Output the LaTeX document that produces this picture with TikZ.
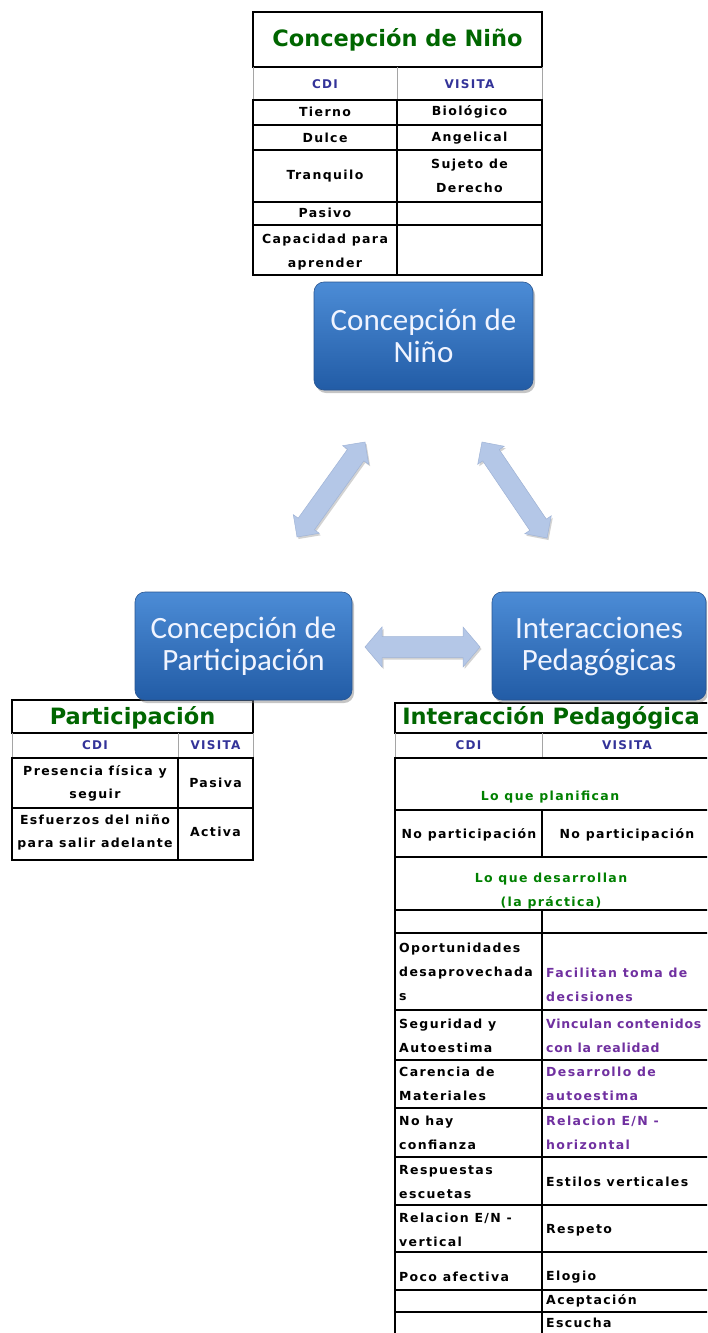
\documentclass[tikz,border=0pt]{standalone}
\usepackage{fontspec}
\setmainfont{DejaVu Sans}
\newfontfamily\cellfont{DejaVu Sans Bold}[LetterSpace=11]
\newfontfamily\tightcellfont{DejaVu Sans Bold}[LetterSpace=6]
\newfontfamily\ttlfont{DejaVu Sans}
\newfontfamily\boxfont{Carlito}
\usetikzlibrary{shadows,calc}
\definecolor{ttlgreen}{RGB}{0,102,0}
\definecolor{txtgreen}{RGB}{0,128,0}
\definecolor{hdrblue}{RGB}{51,51,153}
\definecolor{purp}{RGB}{112,48,160}
\definecolor{arrowblue}{RGB}{180,199,231}
\definecolor{arrowedge}{RGB}{160,180,215}
\definecolor{boxtop}{RGB}{76,140,214}
\definecolor{boxbot}{RGB}{34,92,166}
\definecolor{boxedge}{RGB}{40,85,145}
\definecolor{gridgray}{RGB}{165,165,165}
\newcommand\dblblockarrow[5]{%
  \coordinate (hs) at ($(#1)!#5!(#2)$);
  \coordinate (he) at ($(#2)!#5!(#1)$);
  \fill[blockarr] (#1) -- ($(hs)!#4!90:(#2)$) -- ($(hs)!#3!90:(#2)$)
    -- ($(he)!#3!-90:(#1)$) -- ($(he)!#4!-90:(#1)$) -- (#2)
    -- ($(he)!#4!90:(#1)$) -- ($(he)!#3!90:(#1)$)
    -- ($(hs)!#3!-90:(#2)$) -- ($(hs)!#4!-90:(#2)$) -- cycle;}
\begin{document}
\begin{tikzpicture}[x=1pt,y=-1pt,
  tblk/.style={line width=1.6pt},
  tin/.style={line width=1.3pt},
  tgray/.style={draw=gridgray,line width=0.9pt},
  ttl/.style={font=\ttlfont\bfseries\fontsize{22.5}{26}\selectfont,text=ttlgreen,inner sep=0pt},
  hdr/.style={font=\cellfont\fontsize{12}{13}\selectfont,text=hdrblue,inner sep=0pt},
  cell/.style={font=\cellfont\fontsize{12.5}{24}\selectfont,inner sep=0pt,align=center},
  lcell/.style={font=\cellfont\fontsize{12.5}{24}\selectfont,inner sep=0pt,align=left,anchor=west},
  concept/.style={rounded corners=10pt,top color=boxtop,bottom color=boxbot,draw=boxedge,line width=0.6pt,
    drop shadow={opacity=0.45,shadow xshift=2pt,shadow yshift=-3pt},text={rgb,255:red,240;green,244;blue,255},
    font=\boxfont\fontsize{31}{32}\selectfont,align=center,inner sep=0pt},
  blockarr/.style={fill=arrowblue,draw=arrowedge,line width=0.5pt,
    drop shadow={opacity=0.35,shadow xshift=1.5pt,shadow yshift=-2pt}}]
\clip (0,0) rectangle (707,1333);
\fill[white] (0,0) rectangle (707,1333);

% ---------- top table ----------
\draw[tblk] (253,12) rectangle (542,67);
\draw[tgray] (253,67) -- (253,100) (397,67) -- (397,100) (542,67) -- (542,100);
\draw[tblk] (253,100) rectangle (542,275);
\draw[tin] (253,125) -- (542,125) (253,150) -- (542,150) (253,202) -- (542,202)
  (253,225) -- (542,225) (397,100) -- (397,275);
\node[ttl] (ttlnino) at (397.5,40) {Concepción de Niño};
\node[hdr] (hn1) at (325,84) {CDI};
\node[hdr] (hn2) at (469.5,84) {VISITA};
\node[cell] (n11) at (325,112) {Tierno};
\node[cell] (n12) at (469.5,112) {Biológico};
\node[cell] (n21) at (325,138) {Dulce};
\node[cell] (n22) at (469.5,138) {Angelical};
\node[cell] (n31) at (325,176) {Tranquilo};
\node[cell] (n32) at (469.5,176) {Sujeto de\\Derecho};
\node[cell] (n41) at (325,213) {Pasivo};
\node[cell] (n51) at (325,252) {Capacidad para\\aprender};

% ---------- left table ----------
\draw[tblk] (12,700) rectangle (253,733);
\draw[tgray] (12,733) -- (12,758) (178,733) -- (178,758) (253,733) -- (253,758);
\draw[tblk] (12,758) rectangle (253,860);
\draw[tin] (12,808) -- (253,808) (178,758) -- (178,860);
\node[ttl] (ttlpart) at (132.5,718) {Participación};
\node[hdr] (hp1) at (95,745) {CDI};
\node[hdr] (hp2) at (215.5,745) {VISITA};
\node[cell,font=\cellfont\fontsize{12.5}{23}\selectfont] (p11) at (95,783) {Presencia física y\\seguir};
\node[cell] (p12) at (215.5,783) {Pasiva};
\node[cell,font=\cellfont\fontsize{12.5}{23}\selectfont] (p21) at (95,832) {Esfuerzos del niño\\para salir adelante};
\node[cell] (p22) at (215.5,832) {Activa};

% ---------- right table ----------
\draw[tblk] (395,703) rectangle (712,733);
\draw[tgray] (395,733) -- (395,758) (542,733) -- (542,758);
\draw[tblk] (395,758) rectangle (712,1345);
\draw[tin] (395,810) -- (712,810) (395,857) -- (712,857) (395,910) -- (712,910)
  (395,933) -- (712,933) (395,1010) -- (712,1010) (395,1060) -- (712,1060)
  (395,1108) -- (712,1108) (395,1157) -- (712,1157) (395,1205) -- (712,1205)
  (395,1252) -- (712,1252) (395,1290) -- (712,1290) (395,1312) -- (712,1312)
  (542,810) -- (542,857) (542,910) -- (542,1345);
\node[ttl] (ttlinter) at (551,718) {Interacción Pedagógica};
\node[hdr] (hi1) at (468.5,745) {CDI};
\node[hdr] (hi2) at (627,745) {VISITA};
\node[cell,text=txtgreen] (r1) at (550,797) {Lo que planifican};
\node[cell] (r21) at (469,835) {No participación};
\node[cell] (r22) at (627,835) {No participación};
\node[cell,text=txtgreen] (r3) at (551,891) {Lo que desarrollan\\(la práctica)};
\node[lcell] (r51) at (399,972) {Oportunidades\\desaprovechada\\s};
\node[lcell,text=purp] (r52) at (546,984.5) {Facilitan toma de\\decisiones};
\node[lcell] (r61) at (399,1036) {Seguridad y\\Autoestima};
\node[lcell,text=purp,font=\tightcellfont\fontsize{12.5}{24}\selectfont] (r62) at (546,1036) {Vinculan contenidos\\con la realidad};
\node[lcell] (r71) at (399,1083.5) {Carencia de\\Materiales};
\node[lcell,text=purp] (r72) at (546,1083.5) {Desarrollo de\\autoestima};
\node[lcell] (r81) at (399,1133) {No hay\\confianza};
\node[lcell,text=purp] (r82) at (546,1133) {Relacion E/N -\\horizontal};
\node[lcell] (r91) at (399,1182.5) {Respuestas\\escuetas};
\node[lcell] (r92) at (546,1182) {Estilos verticales};
\node[lcell] (r101) at (399,1230) {Relacion E/N -\\vertical};
\node[lcell] (r102) at (546,1230) {Respeto};
\node[lcell] (r111) at (399,1277) {Poco afectiva};
\node[lcell] (r112) at (546,1277) {Elogio};
\node[lcell] (r122) at (546,1301) {Aceptación};
\node[lcell] (r132) at (546,1323) {Escucha};

% ---------- concept boxes ----------
\node[concept,minimum width=219pt,minimum height=108pt] (nino) at (423.5,336) {Concepción de\\Niño};
\node[concept,minimum width=217pt,minimum height=108pt] (part) at (243.5,646) {Concepción de\\Participación};
\node[concept,minimum width=214pt,minimum height=108pt] (inter) at (599,646) {Interacciones\\Pedagógicas};

% ---------- block arrows ----------
\coordinate (d1a) at (297,537); \coordinate (d1b) at (365,442);
\coordinate (d2a) at (482,442); \coordinate (d2b) at (547,538);
\coordinate (h1a) at (365,647); \coordinate (h1b) at (480,647);
\dblblockarrow{d1a}{d1b}{10pt}{16pt}{16pt}
\dblblockarrow{d2a}{d2b}{10pt}{16pt}{16pt}
\dblblockarrow{h1a}{h1b}{10.5pt}{20pt}{17pt}
\end{tikzpicture}
\end{document}
